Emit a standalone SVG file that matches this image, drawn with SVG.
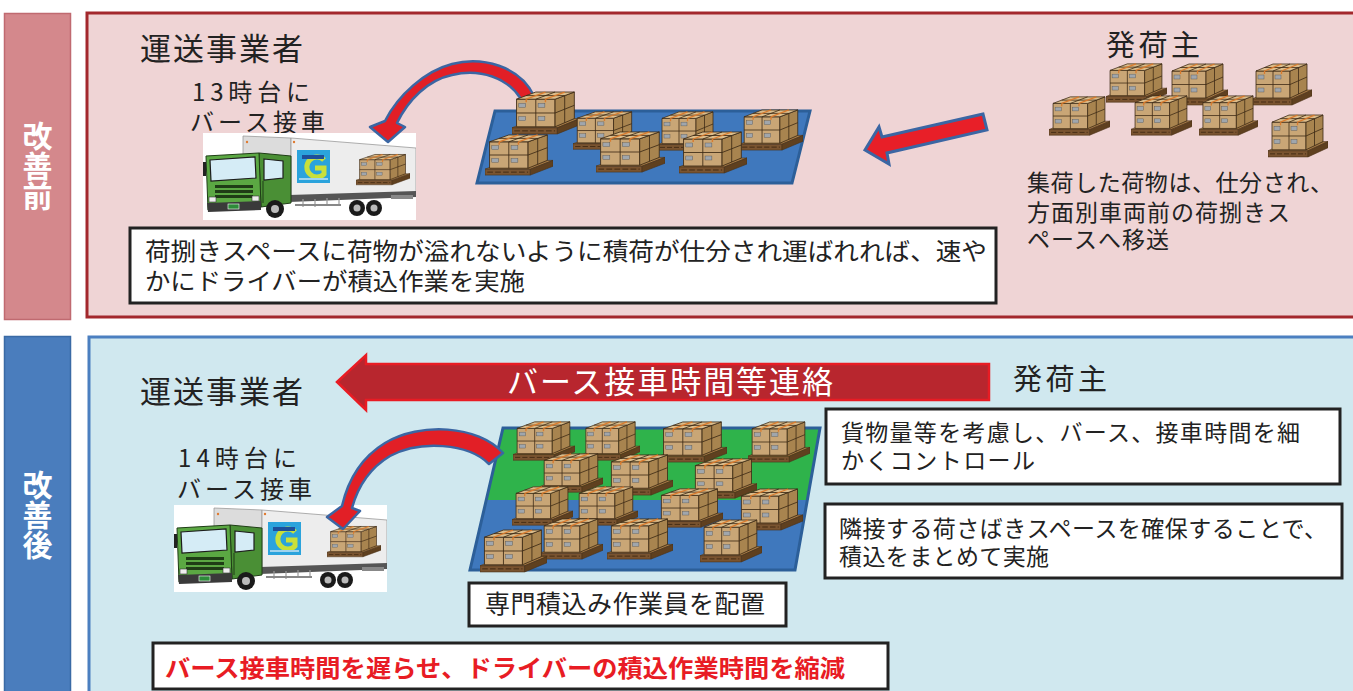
<svg xmlns="http://www.w3.org/2000/svg" xmlns:xlink="http://www.w3.org/1999/xlink" width="1353" height="691" viewBox="0 0 1353 691">
<style>
text{font-family:"Noto Sans CJK JP","Noto Sans CJK SC",sans-serif;fill:#222}
.lbl{fill:#fff;font-weight:bold;font-size:30px;writing-mode:vertical-rl}
.h{font-size:31px}
.m{font-size:24px}
.t{font-size:23px}
.box{fill:#fff;stroke:#222;stroke-width:3}
.carrow{fill:#e21f26;stroke:#3b66a3;stroke-width:2.5;stroke-linejoin:round}
.bx{stroke:#3d2a15;stroke-width:0.8;stroke-linejoin:round}
.pl{stroke:#4b3219;stroke-width:0.6}
.tape{stroke:#d97b2e;stroke-width:1.3}
.tag{fill:#a0a6ac;stroke:#555;stroke-width:0.4}
.cab{stroke:#1f3d16;stroke-width:1}
.win{fill:#d5ecf6;stroke:#1d1d1d;stroke-width:1.2}
</style>
<defs>
<symbol id="pallet" viewBox="0 0 60 46" preserveAspectRatio="none">
<polygon class="pl" points="0,37 40,37 60,28 20,28" fill="#a57a45"/>
<polygon class="pl" points="0,37 40,37 40,43 0,43" fill="#7a5430"/>
<polygon class="pl" points="40,37 60,28 60,34 40,43" fill="#5f401f"/>
<line x1="2" y1="40" x2="38" y2="40" stroke="#3a2510" stroke-width="0.8" stroke-dasharray="5 2"/>
<rect class="bx" x="4" y="9" width="34" height="27" fill="#c9a676"/>
<line class="bx" x1="21" y1="9" x2="21" y2="36"/>
<line class="bx" x1="4" y1="22.5" x2="38" y2="22.5"/>
<polygon class="bx" points="38,9 55,2 55,28 38,36" fill="#a8844f"/>
<line class="bx" x1="46.5" y1="5.5" x2="46.5" y2="32"/>
<line class="bx" x1="38" y1="22.5" x2="55" y2="15"/>
<polygon class="bx" points="4,9 21,2 55,2 38,9" fill="#dbbd8c"/>
<line class="bx" x1="21" y1="9" x2="38" y2="2"/>
<line class="bx" x1="12.5" y1="5.5" x2="46.5" y2="5.5"/>
<line class="tape" x1="12.5" y1="9" x2="29.5" y2="2"/>
<line class="tape" x1="29.5" y1="9" x2="46.5" y2="2"/>
<line class="tape" x1="12.5" y1="9" x2="12.5" y2="12"/>
<line class="tape" x1="29.5" y1="9" x2="29.5" y2="12"/>
<rect class="tag" x="6" y="13" width="6" height="4"/>
<rect class="tag" x="23" y="13" width="6" height="4"/>
<rect class="tag" x="6" y="26" width="6" height="4"/>
<rect class="tag" x="23" y="26" width="6" height="4"/>
</symbol>
<symbol id="truck" viewBox="0 0 213 87" preserveAspectRatio="none">
<rect width="213" height="87" fill="#fff"/>
<polygon points="40,3 88,5 88,64 40,58" fill="#dcdcdc" stroke="#9a9a9a" stroke-width="0.8"/>
<polygon points="88,5 213,15 213,60 88,64" fill="#ededed" stroke="#9a9a9a" stroke-width="0.8"/>
<circle cx="44" cy="9" r="1.2" fill="#e07a30"/>
<circle cx="91" cy="9" r="1.2" fill="#e07a30"/>
<polygon points="86,62 213,58 213,64 86,69" fill="#555"/>
<g stroke="#999" stroke-width="1.2">
<line x1="100" y1="66" x2="100" y2="74"/><line x1="112" y1="66" x2="112" y2="74"/><line x1="124" y1="65" x2="124" y2="73"/><line x1="136" y1="65" x2="136" y2="73"/>
</g>
<rect x="92" y="71" width="46" height="2" fill="#888"/>
<rect x="188" y="62" width="22" height="4" fill="#888"/>
<circle cx="154" cy="75" r="8" fill="#1a1a1a"/><circle cx="154" cy="75" r="3.5" fill="#bbb"/>
<circle cx="171" cy="75" r="8" fill="#1a1a1a"/><circle cx="171" cy="75" r="3.5" fill="#bbb"/>
<polygon class="cab" points="56,20 88,23 88,70 58,74" fill="#4a8f35"/>
<polygon class="cab" points="3,23 56,20 58,74 5,77" fill="#5ba843"/>
<polygon class="win" points="7,27 52,24 53,45 8,48"/>
<polygon class="win" points="61,26 80,28 80,45 61,47"/>
<line x1="60" y1="48" x2="60" y2="70" stroke="#1f3d16" stroke-width="1"/>
<g fill="#1f3d16">
<rect x="12" y="52" width="38" height="3"/><rect x="12" y="57" width="38" height="3"/><rect x="12" y="62" width="38" height="3"/>
</g>
<rect x="6" y="64" width="7" height="5" fill="#eee" stroke="#333" stroke-width="0.6"/>
<rect x="49" y="63" width="7" height="5" fill="#eee" stroke="#333" stroke-width="0.6"/>
<polygon points="4,70 58,68 58,77 5,79" fill="#3a3a3a"/>
<rect x="25" y="71" width="11" height="5" fill="#2e8b3a" stroke="#fff" stroke-width="0.6"/>
<rect x="0" y="29" width="3" height="14" fill="#222"/>
<circle cx="72" cy="76" r="9" fill="#1a1a1a"/><circle cx="72" cy="76" r="4" fill="#bbb"/>
<rect x="94" y="17" width="33" height="33" fill="#2ba3dc"/>
<path d="M121,27 A10,10 0 1 0 121,41 L121,35 L112,35" fill="none" stroke="#c9e03a" stroke-width="5"/>
<rect x="99" y="22" width="22" height="4" fill="#1e4f9a"/>
<rect x="96" y="45" width="29" height="2" fill="#9fd3ee"/>
<use href="#pallet" x="153" y="20" width="54" height="34"/>
</symbol>
</defs>

<!-- BEFORE -->
<g id="label-before">
<rect x="4.5" y="13.5" width="66" height="306" fill="#d4888c" stroke="#c06a70" stroke-width="1.5"/>
<text class="lbl" x="37.5" y="121">改善前</text>
</g>
<g id="panel-before">
<rect x="87" y="13" width="1290" height="304" fill="#efd4d5" stroke="#a3282d" stroke-width="3"/>
</g>
<g id="carrier-before">
<text class="h" x="140" y="60" textLength="163" lengthAdjust="spacing">運送事業者</text>
<text class="m"><tspan x="192" y="101" textLength="118" lengthAdjust="spacing">13時台に</tspan><tspan x="190" y="131" textLength="135" lengthAdjust="spacing">バース接車</tspan></text>
</g>
<g id="truck-before">
<use href="#truck" x="203" y="133" width="213" height="87"/>
</g>
<g id="area-before">
<polygon points="495,111 810,111 792,183 477,183" fill="#3f78bd" stroke="#2c5f99" stroke-width="3"/>
</g>
<g id="shipper-before">
<text x="1106" y="56" font-size="29" textLength="94" lengthAdjust="spacing">発荷主</text>
</g>

<!-- AFTER -->
<g id="label-after">
<rect x="4.5" y="336.5" width="66" height="370" fill="#4a7dbd" stroke="#3a6aa5" stroke-width="1.5"/>
<text class="lbl" x="37.5" y="470">改善後</text>
</g>
<g id="panel-after">
<rect x="89" y="337" width="1290" height="370" fill="#d0e8ef" stroke="#4b7fc0" stroke-width="3"/>
</g>
<g id="carrier-after">
<text class="h" x="140" y="403" textLength="163" lengthAdjust="spacing">運送事業者</text>
<text class="m"><tspan x="178" y="467" textLength="119" lengthAdjust="spacing">14時台に</tspan><tspan x="177" y="498" textLength="135" lengthAdjust="spacing">バース接車</tspan></text>
</g>
<g id="truck-after">
<use href="#truck" x="174" y="505" width="213" height="87"/>
</g>
<g id="shipper-after">
<text x="1013" y="390" font-size="29" textLength="94" lengthAdjust="spacing">発荷主</text>
</g>
<g id="area-after">
<polygon points="503,428 820,428 807.3,500 486.3,500" fill="#2fb34b"/>
<polygon points="486.3,500 807.3,500 795,570 470,570" fill="#3f78bd"/>
<polygon points="503,428 820,428 795,570 470,570" fill="none" stroke="#2c5f99" stroke-width="3"/>
</g>

<g id="connectors">
<path class="carrow" d="M534,96 C520,66 482,56 452,64 C425,71 398,95 385,121 L370,127 L388,142 L405,127 L397,123 C408,100 428,80 452,75 C480,68 508,78 521,99 Z"/>
<polygon points="983,114 882,137 879,127 865,150 889,164 887,153 987,130" fill="#e81f28" stroke="#3b66a3" stroke-width="3" stroke-linejoin="miter"/>
<path class="carrow" d="M503,453 C478,425 420,422 385,443 C362,457 348,480 342,506 L327,517 L343,529 L360,511 L352,508 C358,486 370,468 390,456 C420,440 468,443 489,464 Z"/>
<g id="contact-arrow">
<polygon points="337,382 366,355 366,364 989,364 989,400 366,400 366,410" fill="#b8262e" stroke="#e81c24" stroke-width="2.5"/>
<text x="507" y="393" font-size="31" style="fill:#fff" textLength="326" lengthAdjust="spacing">バース接車時間等連絡</text>
</g>
</g>

<g id="pallets-before">
<use href="#pallet" x="512" y="90" width="68" height="47"/>
<use href="#pallet" x="740" y="108" width="63" height="45"/>
<use href="#pallet" x="573" y="110" width="64" height="42"/>
<use href="#pallet" x="658" y="110" width="60" height="43"/>
<use href="#pallet" x="596" y="130" width="69" height="45"/>
<use href="#pallet" x="679" y="130" width="68" height="46"/>
<use href="#pallet" x="485" y="133" width="68" height="45"/>
</g>
<g id="pallets-shipper">
<use href="#pallet" x="1106" y="62" width="61" height="43"/>
<use href="#pallet" x="1168" y="62" width="60" height="46"/>
<use href="#pallet" x="1252" y="62" width="60" height="46"/>
<use href="#pallet" x="1049" y="95" width="61" height="43"/>
<use href="#pallet" x="1131" y="94" width="61" height="44"/>
<use href="#pallet" x="1199" y="94" width="59" height="44"/>
<use href="#pallet" x="1268" y="113" width="60" height="47"/>
</g>
<g id="pallets-after">
<use href="#pallet" x="513" y="420" width="62" height="43"/>
<use href="#pallet" x="582" y="420" width="58" height="43"/>
<use href="#pallet" x="659" y="420" width="68" height="45"/>
<use href="#pallet" x="748" y="420" width="62" height="45"/>
<use href="#pallet" x="540" y="452" width="63" height="43"/>
<use href="#pallet" x="607" y="453" width="66" height="45"/>
<use href="#pallet" x="691" y="457" width="66" height="44"/>
<use href="#pallet" x="512" y="485" width="61" height="43"/>
<use href="#pallet" x="575" y="485" width="63" height="43"/>
<use href="#pallet" x="657" y="487" width="66" height="43"/>
<use href="#pallet" x="737" y="487" width="66" height="46"/>
<use href="#pallet" x="540" y="517" width="63" height="45"/>
<use href="#pallet" x="607" y="517" width="66" height="45"/>
<use href="#pallet" x="700" y="518" width="62" height="47"/>
<use href="#pallet" x="480" y="528" width="67" height="47"/>
</g>

<g id="note-shipper-before">
<text class="t"><tspan x="1027" y="191" textLength="306" lengthAdjust="spacing">集荷した荷物は、仕分され、</tspan><tspan x="1027" y="221" textLength="263" lengthAdjust="spacing">方面別車両前の荷捌きス</tspan><tspan x="1027" y="248" textLength="142" lengthAdjust="spacing">ペースへ移送</tspan></text>
</g>
<g id="note-before">
<rect class="box" x="130" y="228" width="866" height="75"/>
<text font-size="24"><tspan x="145" y="260" textLength="842" lengthAdjust="spacingAndGlyphs">荷捌きスペースに荷物が溢れないように積荷が仕分され運ばれれば、速や</tspan><tspan x="145" y="290" textLength="380" lengthAdjust="spacingAndGlyphs">かにドライバーが積込作業を実施</tspan></text>
</g>
<g id="note-control">
<rect class="box" x="826" y="409" width="514" height="75"/>
<text class="t"><tspan x="841" y="441" textLength="459" lengthAdjust="spacing">貨物量等を考慮し、バース、接車時間を細</tspan><tspan x="841" y="469" textLength="194" lengthAdjust="spacing">かくコントロール</tspan></text>
</g>
<g id="note-space">
<rect class="box" x="825" y="504" width="517" height="74"/>
<text class="t"><tspan x="839" y="537" textLength="488" lengthAdjust="spacing">隣接する荷さばきスペースを確保することで、</tspan><tspan x="839" y="565" textLength="210" lengthAdjust="spacing">積込をまとめて実施</tspan></text>
</g>
<g id="note-staff">
<rect class="box" x="469" y="583" width="317" height="43"/>
<text x="485" y="613" font-size="25" textLength="280" lengthAdjust="spacing">専門積込み作業員を配置</text>
</g>
<g id="note-result">
<rect class="box" x="153" y="643" width="735" height="46"/>
<text x="165" y="677" font-size="24" font-weight="bold" style="fill:#e81c24" textLength="680" lengthAdjust="spacingAndGlyphs">バース接車時間を遅らせ、ドライバーの積込作業時間を縮減</text>
</g>
</svg>
